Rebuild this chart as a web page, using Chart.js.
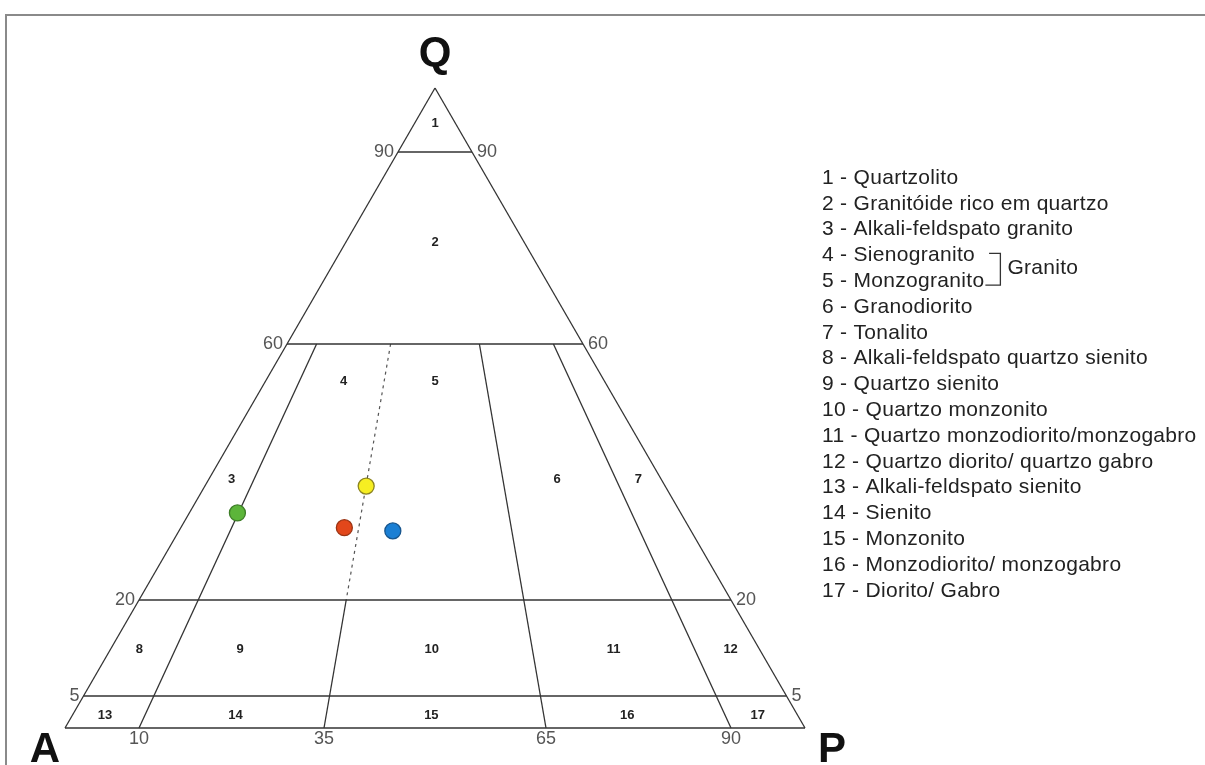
<!DOCTYPE html>
<html>
<head>
<meta charset="utf-8">
<script src="https://cdn.jsdelivr.net/npm/chart.js@4/dist/chart.umd.min.js"></script>
<style>
  html, body { margin: 0; padding: 0; background: #fff; }
  #wrap { position: relative; width: 1205px; height: 765px; }
</style>
</head>
<body>
<div id="wrap"><canvas id="qap" width="1205" height="765"></canvas></div>
<script>
// samples plotted in the QAP diagram (percent, Q + A + P = 100)
const sampleQ = [33.6, 37.8, 31.3, 30.8];
const sampleA = [59.9, 40.4, 46.6, 40.3];
const sampleP = [6.5, 21.8, 22.1, 28.9];
const sampleColors = ["#5cb53a", "#f6ee22", "#e2471b", "#1b7fd4"];
const sampleBorders = ["#3d7d27", "#8c8420", "#9a3414", "#17558d"];

// field boundaries: Q levels (horizontal) and P/(A+P) ratios (radial)
const qLevels = [90, 60, 20, 5];
const ratioLevels = [10, 35, 65, 90];

// field numbers, placed by Q and P/(A+P) ratio
const fieldNames = ["1", "2", "3", "4", "5", "6", "7", "8", "9", "10", "11", "12", "13", "14", "15", "16", "17"];
const fieldQ = [94.5, 75.8, 38.9, 54.2, 54.2, 38.9, 38.9, 12.2, 12.2, 12.2, 12.2, 12.2, 2, 2, 2, 2, 2];
const fieldRatio = [50, 50, 5, 23, 50, 77, 95, 4.5, 20, 49.5, 77.5, 95.5, 4.5, 22.5, 49.5, 76.5, 94.5];

const legendItems = [
  "1 - Quartzolito",
  "2 - Granitóide rico em quartzo",
  "3 - Alkali-feldspato granito",
  "4 - Sienogranito",
  "5 - Monzogranito",
  "6 - Granodiorito",
  "7 - Tonalito",
  "8 - Alkali-feldspato quartzo sienito",
  "9 - Quartzo sienito",
  "10 - Quartzo monzonito",
  "11 - Quartzo monzodiorito/monzogabro",
  "12 - Quartzo diorito/ quartzo gabro",
  "13 - Alkali-feldspato sienito",
  "14 - Sienito",
  "15 - Monzonito",
  "16 - Monzodiorito/ monzogabro",
  "17 - Diorito/ Gabro",
];

const H = Math.sqrt(3) / 2;

// ternary (Q, A, P) -> cartesian, A at left, P at right, Q on top
function tern(q, a, p) {
  const s = q + a + p;
  return { x: ((p + q / 2) / s) * 100, y: (q / s) * 100 * H };
}
// point at a given Q level with a given P/(A+P) ratio
function atRatio(q, r) {
  return tern(q, (100 - q) * (1 - r / 100), (100 - q) * (r / 100));
}

const lineColor = "#333";
function segment(p1, p2, dash) {
  return {
    type: "scatter",
    data: [p1, p2],
    showLine: true,
    borderColor: dash ? "#555" : lineColor,
    borderWidth: dash ? 1.2 : 1.3,
    borderDash: dash ? [3, 4] : [],
    pointRadius: 0,
    clip: false,
  };
}

const datasets = [];
// samples first so they are drawn on top of the field lines
datasets.push({
  type: "scatter",
  data: sampleQ.map((q, i) => tern(q, sampleA[i], sampleP[i])),
  backgroundColor: sampleColors,
  borderColor: sampleBorders,
  borderWidth: 1.3,
  pointRadius: 8,
  clip: false,
});
// outline
datasets.push(segment(tern(0, 100, 0), tern(0, 0, 100)));
datasets.push(segment(tern(0, 100, 0), tern(100, 0, 0)));
datasets.push(segment(tern(0, 0, 100), tern(100, 0, 0)));
qLevels.forEach((q) => {
  datasets.push(segment(atRatio(q, 0), atRatio(q, 100)));
});
ratioLevels.forEach((r) => {
  if (r === 35) {
    // syeno/monzogranite divide is dashed inside the granite field
    datasets.push(segment(atRatio(60, r), atRatio(20, r), true));
    datasets.push(segment(atRatio(20, r), atRatio(0, r)));
  } else {
    datasets.push(segment(atRatio(60, r), atRatio(0, r)));
  }
});

const textPlugin = {
  id: "qapText",
  beforeDraw(chart) {
    const ctx = chart.ctx;
    ctx.save();
    ctx.fillStyle = "#fff";
    ctx.fillRect(0, 0, chart.width, chart.height);
    // frame of the original figure
    ctx.strokeStyle = "#8a8a8a";
    ctx.lineWidth = 2;
    ctx.beginPath();
    ctx.moveTo(6, 765);
    ctx.lineTo(6, 15);
    ctx.lineTo(1205, 15);
    ctx.stroke();
    ctx.restore();
  },
  afterDatasetsDraw(chart) {
    const ctx = chart.ctx;
    const xs = chart.scales.x;
    const ys = chart.scales.y;
    const px = (pt) => [xs.getPixelForValue(pt.x), ys.getPixelForValue(pt.y)];
    ctx.save();

    // field numbers
    ctx.fillStyle = "#222";
    ctx.font = "bold 13px 'Liberation Sans', Arial, sans-serif";
    ctx.textAlign = "center";
    ctx.textBaseline = "middle";
    fieldNames.forEach((n, i) => {
      const [x, y] = px(atRatio(fieldQ[i], fieldRatio[i]));
      ctx.fillText(n, x, y);
    });

    // tick values on both sides and along the base
    ctx.fillStyle = "#555";
    ctx.font = "18px 'Liberation Sans Narrow', 'Liberation Sans', Arial, sans-serif";
    qLevels.forEach((q) => {
      let [x, y] = px(atRatio(q, 0));
      ctx.textAlign = "right";
      ctx.fillText(String(q), x - 4, y);
      [x, y] = px(atRatio(q, 100));
      ctx.textAlign = "left";
      ctx.fillText(String(q), x + 5, y);
    });
    ctx.textAlign = "center";
    ctx.textBaseline = "top";
    ratioLevels.forEach((r) => {
      const [x, y] = px(atRatio(0, r));
      ctx.fillText(String(r), x, y + 2);
    });

    // apex letters
    ctx.fillStyle = "#111";
    ctx.font = "bold 42px 'Liberation Sans', Arial, sans-serif";
    ctx.textBaseline = "alphabetic";
    let [qx, qy] = px(tern(100, 0, 0));
    ctx.fillText("Q", qx, qy - 22);
    let [ax, ay] = px(tern(0, 100, 0));
    ctx.fillText("A", ax - 20, ay + 34);
    let [pX, pY] = px(tern(0, 0, 100));
    ctx.fillText("P", pX + 27, pY + 34);

    // field list
    ctx.fillStyle = "#222";
    ctx.font = "21px 'Liberation Sans', Arial, sans-serif";
    ctx.letterSpacing = "0.3px";
    ctx.textAlign = "left";
    ctx.textBaseline = "middle";
    const lx = 822, ly = 178, step = 25.8;
    legendItems.forEach((t, i) => ctx.fillText(t, lx, ly + i * step));
    // bracket grouping 4 and 5 as Granito
    const w4 = ctx.measureText(legendItems[3]).width;
    const w5 = ctx.measureText(legendItems[4]).width;
    const y4 = ly + 3 * step - 2, y5 = ly + 4 * step + 4;
    const bx = lx + w5 + 16;
    ctx.strokeStyle = "#333";
    ctx.lineWidth = 1.3;
    ctx.beginPath();
    ctx.moveTo(lx + w4 + 14, y4);
    ctx.lineTo(bx, y4);
    ctx.lineTo(bx, y5);
    ctx.lineTo(lx + w5 + 1, y5);
    ctx.stroke();
    ctx.fillText("Granito", bx + 7, (y4 + y5) / 2 - 1);

    ctx.restore();
  },
};

new Chart(document.getElementById("qap"), {
  type: "scatter",
  data: { datasets: datasets },
  options: {
    responsive: false,
    animation: false,
    devicePixelRatio: 1,
    layout: { padding: { left: 65, right: 400, top: 88, bottom: 37 } },
    scales: {
      x: { type: "linear", min: 0, max: 100, display: false },
      y: { type: "linear", min: 0, max: 100 * H, display: false },
    },
    plugins: {
      legend: { display: false },
      tooltip: { enabled: false },
    },
  },
  plugins: [textPlugin],
});
</script>
</body>
</html>
